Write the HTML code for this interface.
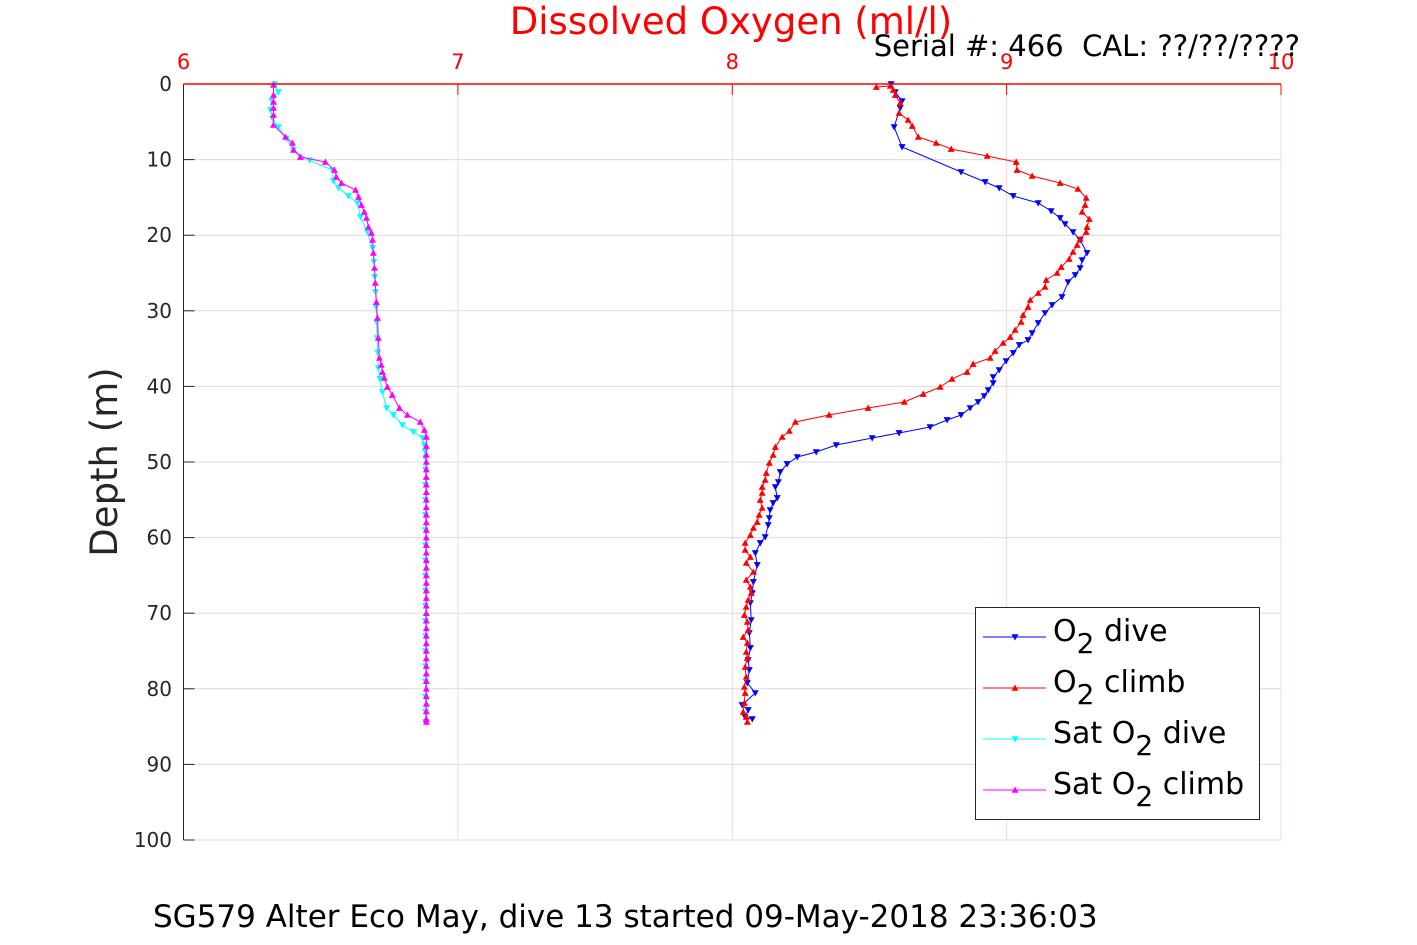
<!DOCTYPE html>
<html><head><meta charset="utf-8"><style>
html,body{margin:0;padding:0;background:#fff;}
svg{display:block;font-family:"DejaVu Sans","Liberation Sans",sans-serif;}
</style></head><body>
<svg id="chart" width="1417" height="945" viewBox="0 0 1417 945" xmlns="http://www.w3.org/2000/svg">
<g id="grid"></g>
<g id="series"></g>
<g id="axes"></g>
<text x="731" y="34" text-anchor="middle" font-size="37" fill="#ff0000">Dissolved Oxygen (ml/l)</text>
<text x="1300" y="56" text-anchor="end" font-size="29" fill="#000" xml:space="preserve" style="white-space:pre">Serial #: 466  CAL: ??/??/????</text>
<text x="0" y="0" transform="translate(117,462) rotate(-90)" text-anchor="middle" font-size="37" fill="#262626">Depth (m)</text>
<text x="153" y="927" font-size="31" fill="#000">SG579 Alter Eco May, dive 13 started 09-May-2018 23:36:03</text>
<g>
<rect x="975.5" y="607.5" width="284" height="212" fill="#fff" stroke="#262626" stroke-width="1"/>
<g id="legend-items"></g>
</g>
</svg>
<script>
const xTicks=[6,7,8,9,10];
const yTicks=[0,10,20,30,40,50,60,70,80,90,100];
const legendLabels=[["O","2"," dive"],["O","2"," climb"],["Sat O","2"," dive"],["Sat O","2"," climb"]];

const o2DiveDepth=[0,1.06,2.25,3.17,5.69,8.33,11.64,12.96,13.76,14.81,15.74,16.80,17.72,18.52,19.58,20.63,22.35,23.28,24.34,25.26,26.19,28.17,29.23,30.29,31.61,32.94,33.86,34.52,35.58,36.64,37.83,38.76,39.55,40.48,41.27,42.06,42.86,43.78,44.44,45.37,46.16,46.83,47.75,48.68,49.34,50.26,51.32,52.65,53.31,54.76,55.42,56.35,57.41,58.33,59.92,60.71,62.04,63.62,65.87,67.33,68.65,70.90,72.62,74.60,76.19,77.51,79.23,80.56,82.14,82.80,83.73,84.0];
const o2DiveValue=[8.579,8.594,8.619,8.612,8.590,8.619,8.834,8.922,8.973,9.024,9.115,9.162,9.195,9.213,9.242,9.268,9.293,9.275,9.268,9.250,9.224,9.202,9.166,9.140,9.115,9.093,9.078,9.046,9.024,8.998,8.973,8.951,8.951,8.933,8.918,8.896,8.867,8.834,8.783,8.721,8.608,8.510,8.379,8.306,8.237,8.200,8.175,8.168,8.157,8.164,8.149,8.138,8.135,8.131,8.120,8.102,8.084,8.091,8.077,8.073,8.066,8.069,8.062,8.066,8.058,8.062,8.055,8.084,8.036,8.058,8.047,8.073];

const o2ClimbDepth=[0.40,0.26,0.79,1.46,2.51,3.84,4.76,5.56,7.01,7.80,8.60,9.52,10.32,11.38,12.17,13.10,13.89,15.08,16.01,16.93,17.86,18.92,19.58,20.50,21.30,22.22,23.15,24.21,25.0,25.93,26.85,27.65,28.57,29.50,30.56,31.48,32.54,33.47,34.26,35.32,36.24,37.04,38.10,39.02,40.08,41.01,42.06,42.86,43.78,44.71,45.90,46.69,48.02,49.07,50.13,51.46,52.38,53.31,54.10,55.03,56.08,57.01,57.94,58.73,59.66,60.71,61.64,62.57,63.36,64.55,65.61,66.53,67.33,68.25,69.18,70.24,71.16,72.22,73.15,73.94,75.13,75.93,77.12,78.44,79.76,80.56,81.88,83.07,83.73,84.39];
const o2ClimbValue=[8.525,8.576,8.587,8.594,8.612,8.608,8.641,8.656,8.678,8.743,8.798,8.929,9.035,9.038,9.093,9.195,9.260,9.290,9.286,9.275,9.301,9.293,9.290,9.268,9.257,9.242,9.228,9.199,9.184,9.144,9.140,9.115,9.086,9.078,9.060,9.053,9.031,9.013,8.987,8.958,8.940,8.878,8.856,8.801,8.758,8.696,8.627,8.495,8.353,8.230,8.208,8.182,8.157,8.149,8.135,8.124,8.120,8.109,8.109,8.102,8.109,8.098,8.091,8.077,8.066,8.047,8.047,8.066,8.051,8.077,8.051,8.066,8.069,8.058,8.051,8.044,8.055,8.058,8.040,8.055,8.051,8.055,8.047,8.051,8.044,8.047,8.044,8.040,8.051,8.055];

const satDiveDepth=[0,1.06,2.2,3.44,4.6,5.69,7.2,8.73,10.1,11.38,12.83,13.76,14.81,15.74,17.59,19.58,21.69,23.5,25.5,27.5,29.5,31.5,33.6,35.5,37.57,39.0,40.74,42.86,43.78,45.11,46.03,46.83,47.75,48.6,49.47,51,53,55,57,59,61,63,65,67,69,71,73,75,77,79,81,83,84.4];
const satDiveValue=[6.332,6.346,6.322,6.317,6.325,6.346,6.375,6.401,6.46,6.543,6.546,6.565,6.601,6.634,6.645,6.670,6.689,6.694,6.697,6.700,6.702,6.704,6.706,6.708,6.710,6.716,6.725,6.740,6.765,6.798,6.838,6.871,6.878,6.881,6.882,6.882,6.882,6.882,6.882,6.882,6.882,6.882,6.882,6.882,6.882,6.882,6.882,6.882,6.882,6.882,6.882,6.882,6.882];

const satClimbDepth=[0.13,1.46,2.38,3.17,4.10,5.42,7.01,7.80,8.73,9.66,10.32,11.38,12.30,13.10,14.02,14.95,16.01,16.93,17.72,18.92,19.71,20.63,22.35,24.34,26.32,28.84,30.95,33.60,36.24,37.17,38.10,38.89,40.08,41.14,42.86,43.78,44.71,45.77,46.69,47.9,49.07,50,51,52,53,54,55,56,57,58,59,60,61,62,63,64,65,66,67,68,69,70,71,72,73,74,75,76,77,78,79,80,81,82,83,84,84.39];
const satClimbValue=[6.328,6.328,6.328,6.328,6.328,6.328,6.372,6.397,6.401,6.426,6.517,6.550,6.557,6.576,6.627,6.638,6.648,6.659,6.667,6.674,6.685,6.689,6.692,6.696,6.699,6.703,6.707,6.710,6.714,6.721,6.725,6.732,6.743,6.761,6.787,6.816,6.863,6.878,6.885,6.885,6.885,6.885,6.885,6.885,6.885,6.885,6.885,6.885,6.885,6.885,6.885,6.885,6.885,6.885,6.885,6.885,6.885,6.885,6.885,6.885,6.885,6.885,6.885,6.885,6.885,6.885,6.885,6.885,6.885,6.885,6.885,6.885,6.885,6.885,6.885,6.885,6.885];

const NS='http://www.w3.org/2000/svg';
const X0=183.5,X1=1281,Y0=84,Y1=840;
const xMin=6,xMax=10,yMin=0,yMax=100;
function sx(v){return X0+(v-xMin)/(xMax-xMin)*(X1-X0);}
function sy(d){return Y0+(d-yMin)/(yMax-yMin)*(Y1-Y0);}
function mk(tag,attrs,parent){const e=document.createElementNS(NS,tag);for(const k in attrs)e.setAttribute(k,attrs[k]);parent.appendChild(e);return e;}

const grid=document.getElementById('grid');
const axes=document.getElementById('axes');
yTicks.forEach(t=>{
  const l=mk('line',{x1:X0,x2:X1,y1:sy(t),y2:sy(t),stroke:'#dcdcdc','stroke-width':1},grid);
  
  
  const tk=mk('line',{x1:X0,x2:X0+11,y1:sy(t),y2:sy(t),stroke:'#262626','stroke-width':1},axes);
  
  
  const tx=mk('text',{x:172,y:sy(t)+7,'text-anchor':'end','font-size':20,fill:'#262626'},axes);
  
  
  tx.textContent=t;
});
xTicks.forEach(t=>{
  const l=mk('line',{x1:sx(t),x2:sx(t),y1:Y0,y2:Y1,stroke:'#f8d8d8','stroke-width':1},grid);
  
  
  const tk=mk('line',{x1:sx(t),x2:sx(t),y1:Y0,y2:Y0+11,stroke:'#ff0000','stroke-width':1},axes);
  
  
  const tx=mk('text',{x:sx(t),y:69,'text-anchor':'middle','font-size':21,fill:'#ff0000'},axes);
  
  
  tx.textContent=t;
});
const la=mk('line',{x1:X0,x2:X0,y1:Y0,y2:Y1,stroke:'#262626','stroke-width':1},axes);


const ta=mk('line',{x1:X0,x2:X1,y1:Y0,y2:Y0,stroke:'#ff0000','stroke-width':1.5},axes);



function tri(cx,cy,up,r){
  return up?`M${cx},${cy-r} L${cx+r},${cy+r*0.8} L${cx-r},${cy+r*0.8} Z`:`M${cx},${cy+r} L${cx+r},${cy-r*0.8} L${cx-r},${cy-r*0.8} Z`;
}
const seriesG=document.getElementById('series');
function drawSeries(depths,vals,color,up,name){
  const g=mk('g',{},seriesG);
  
  
  const pts=depths.map((d,i)=>sx(vals[i]).toFixed(1)+','+sy(d).toFixed(1)).join(' ');
  const pl=mk('polyline',{points:pts,fill:'none',stroke:color,'stroke-width':1},g);
  
  
  let dstr='';
  depths.forEach((d,i)=>{dstr+=tri(sx(vals[i]),sy(d),up,3.5)+' ';});
  const m=mk('path',{d:dstr,fill:color,stroke:'none'},g);
  
  
}
drawSeries(satDiveDepth,satDiveValue,'#00ffff',false,'sat-o2-dive-series');
drawSeries(satClimbDepth,satClimbValue,'#ff00ff',true,'sat-o2-climb-series');
drawSeries(o2DiveDepth,o2DiveValue,'#0000ff',false,'o2-dive-series');
drawSeries(o2ClimbDepth,o2ClimbValue,'#ff0000',true,'o2-climb-series');

const legColors=['#0000ff','#ff0000','#00ffff','#ff00ff'];
const legUp=[false,true,false,true];
const li=document.getElementById('legend-items');
legendLabels.forEach((lab,i)=>{
  const y=637+i*51;
  const g=mk('g',{},li);
  
  
  mk('line',{x1:983,x2:1046,y1:y,y2:y,stroke:legColors[i],'stroke-width':1},g);
  mk('path',{d:tri(1015,y,legUp[i],3.5),fill:legColors[i]},g);
  const t=mk('text',{x:1053,y:y+4,'font-size':30,fill:'#000'},g);
  const a=mk('tspan',{},t);a.textContent=lab[0];
  const b=mk('tspan',{dy:12,'font-size':28},t);b.textContent=lab[1];
  const c=mk('tspan',{dy:-12},t);c.textContent=lab[2];
});
</script>
</body></html>
